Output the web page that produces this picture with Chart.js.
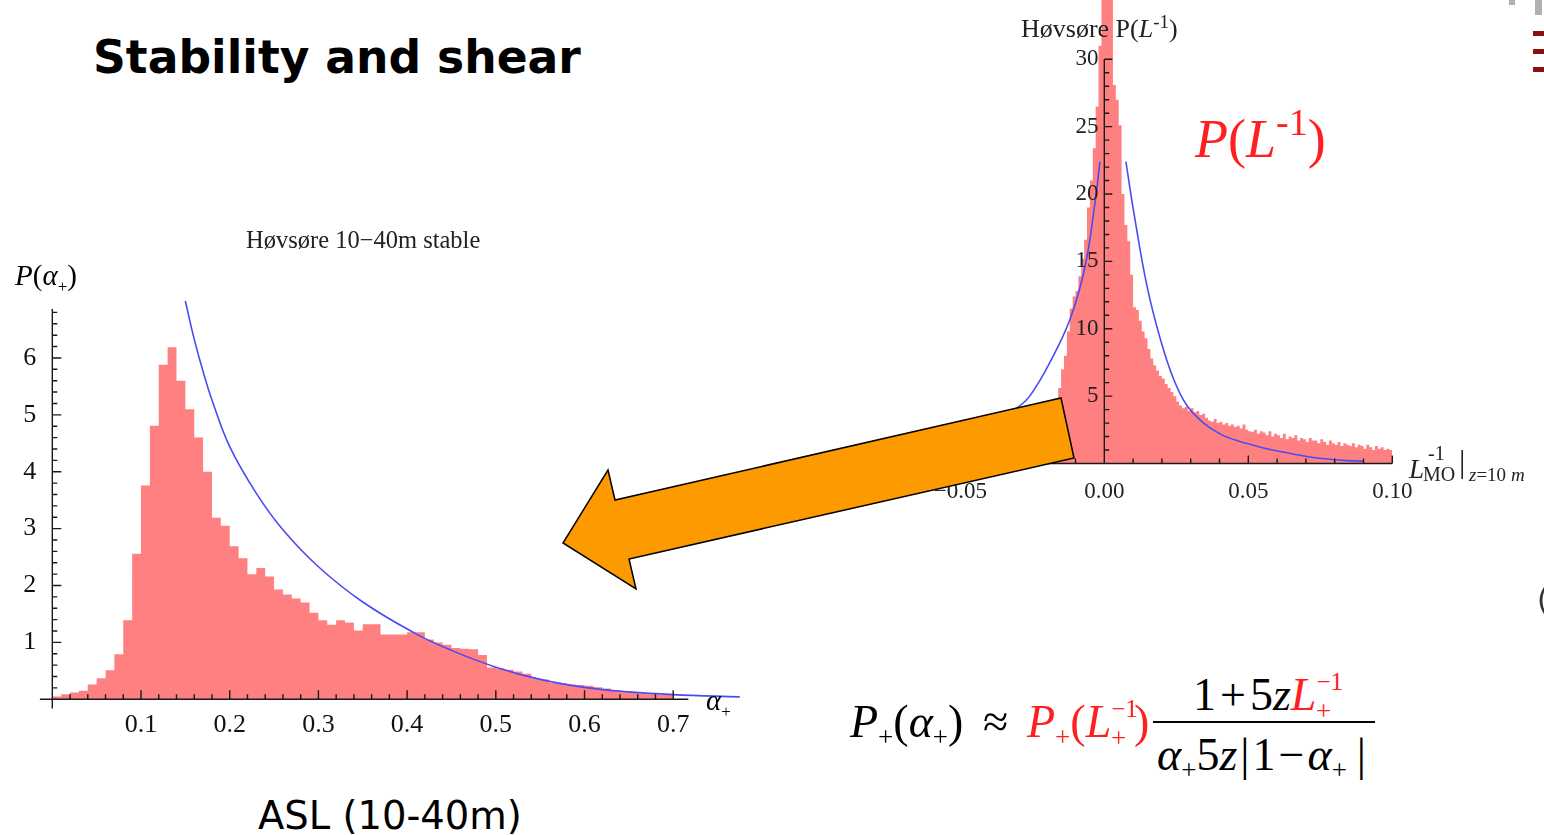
<!DOCTYPE html>
<html>
<head>
<meta charset="utf-8">
<script src="https://cdn.jsdelivr.net/npm/chart.js@4.4.1/dist/chart.umd.min.js"></script>
<style>
  body { margin: 0; width: 1544px; height: 835px; background: #fff; position: relative; overflow: hidden; }
  canvas { position: absolute; }
  .t { position: absolute; line-height: 1; white-space: nowrap; }
  .serif { font-family: "Liberation Serif", serif; }
  .red { color: #ff1f1f; }
  .sp, .sb { position: relative; }
</style>
</head>
<body>

<canvas id="alphaChart" width="770" height="530" style="left:0;top:220px"></canvas>
<canvas id="invLChart" width="644" height="520" style="left:900px;top:0"></canvas>

<!-- slide text -->
<div class="t" style="left:93px;top:31px;font:bold 45.6px 'DejaVu Sans';">Stability and shear</div>
<div class="t" style="left:258px;top:793px;font:38.5px 'DejaVu Sans';">ASL (10-40m)</div>

<!-- left plot labels -->
<div class="t serif" style="left:246px;top:228px;font-size:24.5px;color:#222">Høvsøre 10−40m stable</div>
<div class="t serif" style="left:15px;top:261px;font-size:29px"><i>P</i>(<i>α</i><span class="sb" style="font-size:17px;top:7px">+</span>)</div>
<div class="t serif" style="left:706px;top:686px;font-size:29px"><i>α</i><span class="sb" style="font-size:17px;top:7px">+</span></div>

<!-- right plot labels -->
<div class="t serif" style="left:1021px;top:16px;font-size:26px;color:#222">Høvsøre P(<i>L</i><span class="sp" style="font-size:19px;top:-9px">-1</span>)</div>
<div class="t serif" style="left:1409px;top:456px;font-size:27px;color:#222"><i>L</i></div>
<div class="t serif" style="left:1428px;top:443px;font-size:20px;color:#222">-1</div>
<div class="t serif" style="left:1423px;top:464px;font-size:20px;color:#222">MO</div>
<div class="t serif" style="left:1459px;top:445px;font-size:32px;color:#222">|</div>
<div class="t serif" style="left:1469px;top:465px;font-size:19px;color:#222"><i>z</i>=10 <i>m</i></div>
<div class="t serif red" style="left:1195px;top:112px;font-size:54px"><i>P</i>(<i>L</i><span class="sp" style="font-size:38px;top:-22px">-1</span>)</div>

<!-- formula -->
<div class="t serif" style="left:850px;top:699px;font-size:46px"><i>P</i><span class="sb" style="font-size:27px;top:9px">+</span>(<i>α</i><span class="sb" style="font-size:27px;top:9px">+</span>)</div>
<div class="t serif" style="left:983px;top:699px;font-size:46px">≈</div>
<div class="t serif red" style="left:1027px;top:699px;font-size:46px"><i>P</i><span class="sb" style="font-size:27px;top:9px">+</span>(<i>L</i><span class="sp" style="font-size:25px;top:-20px">−1</span><span class="sb" style="font-size:27px;top:10px;margin-left:-27px;margin-right:8px">+</span>)</div>
<div style="position:absolute;left:1153px;top:721px;width:222px;height:2px;background:#000"></div>
<div class="t serif" style="left:1193px;top:672px;font-size:46px">1<span style="margin:0 4px">+</span>5<i>z</i><span class="red"><i>L</i><span class="sp" style="font-size:25px;top:-20px">−1</span><span class="sb" style="font-size:27px;top:10px;margin-left:-27px">+</span></span></div>
<div class="t serif" style="left:1157px;top:732px;font-size:46px"><i>α</i><span class="sb" style="font-size:27px;top:9px">+</span>5<i>z</i><span style="margin:0 3px">|</span>1<span style="margin:0 3px">−</span><i>α</i><span class="sb" style="font-size:27px;top:9px">+</span><span style="margin-left:10px">|</span></div>

<!-- corner marks of the slide template -->
<div style="position:absolute;left:1509px;top:0;width:6px;height:5px;background:#b0b0b0"></div>
<div style="position:absolute;left:1535px;top:0;width:7px;height:15px;background:#b0b0b0"></div>
<div style="position:absolute;left:1533px;top:31px;width:11px;height:5px;background:#8b1010"></div>
<div style="position:absolute;left:1533px;top:49px;width:11px;height:5px;background:#8b1010"></div>
<div style="position:absolute;left:1533px;top:67px;width:11px;height:5px;background:#8b1010"></div>
<div class="t" style="left:1537px;top:582px;font:30px 'DejaVu Sans';color:#333">(</div>

<!-- arrow -->
<svg width="1544" height="835" style="position:absolute;left:0;top:0">
  <polygon points="1061,398 1074,458 629,559 636,589 563,543 608,470 615,500"
           fill="#fd9a00" stroke="#000" stroke-width="1.5" stroke-linejoin="miter"/>
</svg>

<script>
// ---------- left plot: P(alpha+) at Høvsøre 10-40m, stable ----------
var alphaBinStart = 0.0;
var alphaBinWidth = 0.01;
var alphaDensity = [
  0.05, 0.09, 0.12, 0.15, 0.26, 0.37, 0.51, 0.79, 1.39, 2.56,
  3.76, 4.81, 5.88, 6.19, 5.60, 5.10, 4.60, 4.00, 3.19, 3.05,
  2.69, 2.48, 2.20, 2.31, 2.16, 1.93, 1.84, 1.77, 1.70, 1.52,
  1.39, 1.31, 1.39, 1.35, 1.21, 1.32, 1.32, 1.14, 1.14, 1.14,
  1.18, 1.18, 1.05, 1.00, 0.96, 0.90, 0.89, 0.88, 0.78, 0.56,
  0.54, 0.52, 0.49, 0.45, 0.37, 0.35, 0.29, 0.28, 0.26, 0.25,
  0.24, 0.21, 0.19, 0.16, 0.13, 0.12, 0.10, 0.09, 0.08, 0.08
];
var alphaFitX = [0.150, 0.16, 0.17, 0.18, 0.20, 0.23, 0.26, 0.30, 0.35, 0.41, 0.45, 0.50, 0.55, 0.60, 0.65, 0.70, 0.775];
var alphaFitY = [7.00, 6.33, 5.76, 5.26, 4.44, 3.62, 2.98, 2.33, 1.71, 1.15, 0.86, 0.565, 0.35, 0.21, 0.13, 0.083, 0.042];
var alphaXTicks = [0.1, 0.2, 0.3, 0.4, 0.5, 0.6, 0.7];
var alphaXLabels = ['0.1', '0.2', '0.3', '0.4', '0.5', '0.6', '0.7'];
var alphaYTicks = [1, 2, 3, 4, 5, 6];
var alphaYLabels = ['1', '2', '3', '4', '5', '6'];

// ---------- right plot: P(1/L) at Høvsøre, z = 10 m ----------
var invLBinStart = -0.030;
var invLBinWidth = 0.001;
var invLDensity = [
  0.3, 0.4, 0.5, 0.6, 0.8, 0.9, 1.1, 1.3, 1.6, 2.0,
  2.4, 3.0, 3.8, 4.8, 5.6, 7.0, 8.0, 9.8, 11.5, 12.4,
  12.8, 13.9, 15.2, 16.6, 19.0, 21.0, 23.4, 26.5, 31.0, 38.0,
  42.0, 40.0, 36.0, 28.1, 27.0, 25.1, 20.0, 17.7, 16.5, 14.0,
  11.6, 11.4, 10.6, 9.8, 9.3, 8.5, 7.8, 7.3, 6.9, 6.5,
  6.3, 5.9, 5.6, 5.3, 5.0, 4.6, 4.3, 4.1, 4.2, 3.9,
  4.1, 3.8, 3.9, 3.6, 3.7, 3.4, 3.2, 3.1, 3.3, 3.0,
  3.1, 2.9, 3.0, 2.8, 2.9, 2.7, 2.8, 2.6, 2.9, 2.5,
  2.4, 2.35, 2.5, 2.2, 2.4, 2.3, 2.1, 2.4, 2.0, 2.2,
  2.1, 1.9, 2.2, 1.8, 2.0, 1.9, 2.1, 1.7, 1.9, 1.8,
  1.6, 1.9, 1.7, 1.7, 1.5, 1.8, 1.6, 1.4, 1.7, 1.5,
  1.4, 1.6, 1.3, 1.5, 1.4, 1.3, 1.5, 1.2, 1.4, 1.3,
  1.1, 1.4, 1.2, 1.0, 1.3, 1.1, 1.2, 1.0, 1.1, 1.0
];
var invLFitNegX = [-0.045, -0.0305, -0.0259, -0.0189, -0.0119, -0.0067, -0.0032, -0.0015];
var invLFitNegY = [2.0, 4.1, 5.0, 7.5, 10.7, 14.6, 19.4, 22.4];
var invLFitPosX = [0.0075, 0.0102, 0.0148, 0.0195, 0.0240, 0.0287, 0.0345, 0.0402, 0.046, 0.0553, 0.062, 0.0726, 0.082, 0.090];
var invLFitPosY = [22.4, 18.7, 13.2, 9.2, 6.3, 4.3, 3.0, 2.2, 1.7, 1.15, 0.85, 0.45, 0.25, 0.17];
var invLXTicks = [-0.05, 0, 0.05, 0.10];
var invLXLabels = ['\u22120.05', '0.00', '0.05', '0.10'];
var invLYTicks = [5, 10, 15, 20, 25, 30];
var invLYLabels = ['5', '10', '15', '20', '25', '30'];

var histColor = '#ff8080';
var fitColor = '#4b4bf5';

function histPoints(start, width, values) {
  var pts = values.map(function(v, i) { return {x: start + i * width, y: v}; });
  pts.push({x: start + values.length * width, y: values[values.length - 1]});
  return pts;
}
function xyPoints(xs, ys) {
  return xs.map(function(x, i) { return {x: x, y: ys[i]}; });
}
function stepsFrom(a, b, step) {
  var out = [];
  for (var v = a; v <= b + step / 1000; v += step) out.push(Math.round(v / step) * step);
  return out;
}
function near(list, v) {
  return list.some(function(m) { return Math.abs(m - v) < 1e-9; });
}

// Mathematica style axes: lines through the origin, ticks pointing inward
var mathAxes = {
  id: 'mathAxes',
  afterDatasetsDraw: function(chart, args, o) {
    var ctx = chart.ctx, x = chart.scales.x, y = chart.scales.y;
    var yAxisPx = x.getPixelForValue(0);
    var xAxisPx = y.getPixelForValue(0);
    ctx.save();
    ctx.strokeStyle = '#1a1a1a';
    ctx.lineWidth = 1.4;
    ctx.beginPath();
    ctx.moveTo(x.getPixelForValue(o.xFrom), xAxisPx);
    ctx.lineTo(x.getPixelForValue(o.xTo), xAxisPx);
    ctx.moveTo(yAxisPx, y.getPixelForValue(o.yFrom));
    ctx.lineTo(yAxisPx, y.getPixelForValue(o.yTo));
    o.xMinor.forEach(function(v) {
      if (Math.abs(v) < 1e-9) return;
      var len = near(o.xMajor, v) ? o.majorLen : o.minorLen;
      var px = x.getPixelForValue(v);
      ctx.moveTo(px, xAxisPx);
      ctx.lineTo(px, xAxisPx - len);
    });
    o.yMinor.forEach(function(v) {
      if (Math.abs(v) < 1e-9) return;
      var len = near(o.yMajor, v) ? o.majorLen : o.minorLen;
      var py = y.getPixelForValue(v);
      ctx.moveTo(yAxisPx, py);
      ctx.lineTo(yAxisPx + len, py);
    });
    ctx.stroke();
    ctx.restore();
  }
};

function fixedTicks(values) {
  return function(axis) { axis.ticks = values.map(function(v) { return {value: v}; }); };
}

// left chart
new Chart(document.getElementById('alphaChart'), {
  type: 'line',
  data: {
    datasets: [{
      data: histPoints(alphaBinStart, alphaBinWidth, alphaDensity),
      stepped: 'before', fill: 'origin', backgroundColor: histColor,
      borderWidth: 0, borderColor: 'rgba(0,0,0,0)', pointRadius: 0, order: 2
    }, {
      data: xyPoints(alphaFitX, alphaFitY),
      borderColor: fitColor, borderWidth: 1.6, pointRadius: 0,
      tension: 0.4, fill: false, order: 1
    }]
  },
  options: {
    responsive: false, animation: false,
    layout: {padding: {left: 0, right: 25.8, top: 78.2, bottom: 0}},
    plugins: {
      legend: {display: false}, tooltip: {enabled: false},
      mathAxes: {
        xFrom: -0.014, xTo: 0.717, yFrom: -0.16, yTo: 6.86,
        xMajor: alphaXTicks, xMinor: stepsFrom(0.02, 0.70, 0.02).concat(alphaXTicks),
        yMajor: alphaYTicks, yMinor: stepsFrom(0.2, 6.8, 0.2),
        majorLen: 9, minorLen: 5
      }
    },
    scales: {
      x: {
        type: 'linear', min: 0, max: 0.78,
        grid: {display: false}, border: {display: false},
        afterBuildTicks: fixedTicks(alphaXTicks),
        afterFit: function(s) { s.height = 50.7; },
        ticks: {
          padding: 2, color: '#111', maxRotation: 0, autoSkip: false,
          font: {family: 'Liberation Serif', size: 26},
          callback: function(v, i) { return alphaXLabels[i]; }
        }
      },
      y: {
        type: 'linear', min: 0, max: 7.05,
        grid: {display: false}, border: {display: false},
        afterBuildTicks: fixedTicks(alphaYTicks),
        afterFit: function(s) { s.width = 52.3; },
        ticks: {
          padding: 8, color: '#111', autoSkip: false,
          font: {family: 'Liberation Serif', size: 26},
          callback: function(v, i) { return alphaYLabels[i]; }
        }
      }
    }
  },
  plugins: [mathAxes]
});

// right chart
new Chart(document.getElementById('invLChart'), {
  type: 'line',
  data: {
    datasets: [{
      data: histPoints(invLBinStart, invLBinWidth, invLDensity),
      stepped: 'before', fill: 'origin', backgroundColor: histColor,
      borderWidth: 0, borderColor: 'rgba(0,0,0,0)', pointRadius: 0, order: 2
    }, {
      data: xyPoints(invLFitNegX, invLFitNegY),
      borderColor: fitColor, borderWidth: 1.6, pointRadius: 0,
      tension: 0.4, fill: false, order: 1
    }, {
      data: xyPoints(invLFitPosX, invLFitPosY),
      borderColor: fitColor, borderWidth: 1.6, pointRadius: 0,
      tension: 0.4, fill: false, order: 1
    }]
  },
  options: {
    responsive: false, animation: false,
    layout: {padding: {left: 31.5, right: 151.7, top: 0, bottom: 0}},
    plugins: {
      legend: {display: false}, tooltip: {enabled: false},
      mathAxes: {
        xFrom: -0.06, xTo: 0.10, yFrom: 0, yTo: 30,
        xMajor: invLXTicks, xMinor: stepsFrom(-0.05, 0.10, 0.01),
        yMajor: invLYTicks, yMinor: stepsFrom(1, 30, 1),
        majorLen: 8, minorLen: 5
      }
    },
    scales: {
      x: {
        type: 'linear', min: -0.06, max: 0.10,
        grid: {display: false}, border: {display: false},
        afterBuildTicks: fixedTicks(invLXTicks),
        afterFit: function(s) { s.height = 56.5; },
        ticks: {
          padding: 7, color: '#222', maxRotation: 0, autoSkip: false,
          font: {family: 'Liberation Serif', size: 23},
          callback: function(v, i) { return invLXLabels[i]; }
        }
      },
      y: {
        type: 'linear', min: 0, max: 34.4, position: {x: 0},
        grid: {display: false}, border: {display: false},
        afterBuildTicks: fixedTicks(invLYTicks),
        afterFit: function(s) { s.paddingTop = 0; s.paddingBottom = 0; },
        ticks: {
          z: 1, color: '#222', autoSkip: false,
          font: {family: 'Liberation Serif', size: 23},
          // labels sit right against an axis placed at x = 0, so pad them with a space
          callback: function(v, i) { return invLYLabels[i] + ' '; }
        }
      }
    }
  },
  plugins: [mathAxes]
});
</script>
</body>
</html>
